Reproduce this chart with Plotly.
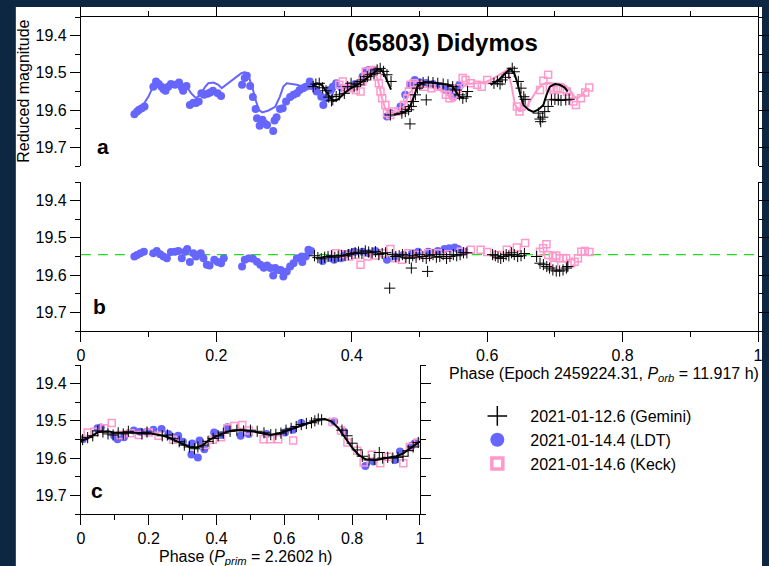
import plotly.graph_objects as go

# ---------------- Panel a : observed lightcurves ----------------
ldt_a_phase = [0.079, 0.083, 0.086, 0.090, 0.094, 0.107, 0.111, 0.115, 0.119, 0.122, 0.125, 0.129, 0.133,
               0.139, 0.145, 0.149, 0.151, 0.156, 0.161, 0.166, 0.170, 0.174, 0.178, 0.182, 0.187, 0.191,
               0.195, 0.202, 0.207, 0.238, 0.242, 0.245, 0.250, 0.254, 0.258, 0.260, 0.264, 0.268, 0.271,
               0.275, 0.284, 0.286, 0.289, 0.294, 0.298, 0.303, 0.309, 0.314, 0.319, 0.323, 0.328, 0.332,
               0.338, 0.340, 0.348, 0.355, 0.358, 0.362, 0.367, 0.372, 0.377, 0.385, 0.395, 0.405, 0.416,
               0.421, 0.425, 0.433, 0.452, 0.457, 0.472, 0.479, 0.486, 0.493, 0.500, 0.510, 0.520, 0.530,
               0.538, 0.544, 0.549, 0.554, 0.559]
ldt_a_mag = [19.611, 19.604, 19.599, 19.595, 19.590, 19.537, 19.523, 19.530, 19.537, 19.544, 19.548, 19.537, 19.530,
             19.532, 19.526, 19.539, 19.548, 19.535, 19.586, 19.580, 19.581, 19.577, 19.555, 19.559, 19.556, 19.553,
             19.548, 19.555, 19.562, 19.532, 19.514, 19.508, 19.535, 19.565, 19.597, 19.622, 19.642, 19.626, 19.635,
             19.640, 19.656, 19.628, 19.619, 19.597, 19.595, 19.577, 19.565, 19.559, 19.555, 19.546, 19.541, 19.537,
             19.523, 19.535, 19.550, 19.564, 19.586, 19.568, 19.546, 19.537, 19.528, 19.540, 19.535, 19.530, 19.510,
             19.495, 19.492, 19.492, 19.617, 19.608, 19.590, 19.559, 19.532, 19.519, 19.525, 19.527, 19.530, 19.535,
             19.545, 19.550, 19.564, 19.541, 19.532]

ldt_model_phase = [0.078, 0.090, 0.100, 0.107, 0.112, 0.117, 0.122, 0.134, 0.146, 0.156, 0.163, 0.170, 0.178,
                   0.183, 0.188, 0.196, 0.203, 0.208, 0.218, 0.227, 0.237, 0.242, 0.247, 0.253, 0.258, 0.263,
                   0.268, 0.277, 0.287, 0.294, 0.299, 0.304, 0.311, 0.319, 0.328, 0.338, 0.348, 0.355, 0.362,
                   0.369, 0.377]
ldt_model_mag = [19.608, 19.592, 19.563, 19.535, 19.521, 19.526, 19.537, 19.532, 19.526, 19.537, 19.555, 19.568, 19.555,
                 19.539, 19.528, 19.526, 19.532, 19.541, 19.528, 19.514, 19.501, 19.498, 19.506, 19.537, 19.573, 19.600,
                 19.606, 19.601, 19.591, 19.563, 19.537, 19.528, 19.530, 19.532, 19.537, 19.526, 19.537, 19.555, 19.573,
                 19.564, 19.537]

gem_a_phase = [0.343, 0.347, 0.352, 0.357, 0.362, 0.366, 0.370, 0.372, 0.377, 0.382, 0.389, 0.394, 0.399, 0.4035,
               0.408, 0.413, 0.418, 0.423, 0.428, 0.433, 0.4375, 0.442, 0.447, 0.452, 0.458, 0.457, 0.474, 0.479,
               0.484, 0.486, 0.488, 0.491, 0.494, 0.497, 0.5006, 0.5054, 0.510, 0.513, 0.520, 0.527, 0.535, 0.542,
               0.549, 0.554, 0.559, 0.564, 0.569, 0.571, 0.610, 0.615, 0.619, 0.622, 0.627, 0.632, 0.637, 0.640,
               0.646, 0.650, 0.654, 0.656, 0.6755, 0.678, 0.679, 0.682, 0.685, 0.690, 0.695, 0.700, 0.705, 0.709,
               0.716, 0.721]
gem_a_mag = [19.537, 19.530, 19.528, 19.540, 19.548, 19.565, 19.575, 19.5725, 19.5635, 19.559, 19.555, 19.537, 19.528, 19.537,
             19.532, 19.523, 19.519, 19.510, 19.505, 19.501, 19.492, 19.488, 19.496, 19.505, 19.523, 19.613, 19.608, 19.604,
             19.599, 19.637, 19.590, 19.577, 19.559, 19.541, 19.532, 19.526, 19.5725, 19.524, 19.526, 19.528, 19.530, 19.532,
             19.537, 19.546, 19.559, 19.568, 19.564, 19.550, 19.528, 19.523, 19.530, 19.519, 19.512, 19.501, 19.4876, 19.497,
             19.523, 19.541, 19.564, 19.571, 19.608, 19.624, 19.631, 19.619, 19.604, 19.590, 19.5725, 19.571, 19.5725, 19.574,
             19.5725, 19.571]

gem_model_phase = [0.342, 0.349, 0.356, 0.362, 0.368, 0.373, 0.379, 0.385, 0.392, 0.400, 0.408, 0.416, 0.424, 0.432,
                   0.438, 0.442, 0.446, 0.450, 0.454, 0.458, None,
                   0.462, 0.470, 0.478, 0.484, 0.489, 0.493, 0.497, 0.503, 0.513, 0.527, 0.542, 0.549, 0.554, 0.559,
                   0.566, None,
                   0.605, 0.617, 0.627, 0.634, 0.640, 0.644, 0.649, 0.6535, 0.661, 0.668, 0.6755, 0.683, 0.6876,
                   0.6925, 0.700, 0.707, 0.714, 0.719]
gem_model_mag = [19.535, 19.528, 19.533, 19.548, 19.566, 19.575, 19.572, 19.562, 19.550, 19.540, 19.532, 19.523, 19.512, 19.500,
                 19.492, 19.490, 19.497, 19.512, 19.530, 19.545, None,
                 19.612, 19.610, 19.605, 19.597, 19.578, 19.555, 19.537, 19.528, 19.525, 19.528, 19.532, 19.537, 19.550, 19.564,
                 19.568, None,
                 19.532, 19.519, 19.501, 19.489, 19.501, 19.523, 19.559, 19.586, 19.599, 19.605, 19.599, 19.586, 19.559,
                 19.537, 19.530, 19.532, 19.539, 19.550]

keck_a_phase = [0.3816, 0.3866, 0.391, 0.394, 0.3987, 0.406, 0.413, 0.4156, 0.4206, 0.423, 0.428, 0.4326, 0.4375,
                0.440, 0.4424, 0.445, 0.4496, 0.452, 0.4569, 0.4618, 0.469, 0.477, 0.482, 0.4843, 0.4867, 0.4916,
                0.499, 0.5078, 0.5176, 0.527, 0.537, 0.539, 0.5443, 0.5516, 0.5565, 0.5637, 0.568, 0.5757, 0.585,
                0.592, 0.600, 0.6439, 0.6477, 0.656, 0.678, 0.683, 0.690, 0.6925, 0.698, 0.6998, 0.7045, 0.712,
                0.7177, 0.7206, 0.7274, 0.731, 0.7385, 0.7448, 0.7507]
keck_a_mag = [19.532, 19.523, 19.541, 19.541, 19.537, 19.546, 19.550, 19.523, 19.497, 19.510, 19.495, 19.492, 19.510,
              19.528, 19.550, 19.568, 19.586, 19.608, 19.613, 19.604, 19.604, 19.586, 19.568, 19.550, 19.532, 19.528,
              19.532, 19.537, 19.541, 19.537, 19.541, 19.559, 19.568, 19.559, 19.541, 19.514, 19.519, 19.528, 19.532,
              19.537, 19.519, 19.590, 19.604, 19.581, 19.546, 19.521, 19.505, 19.539, 19.546, 19.564, 19.541, 19.544,
              19.550, 19.564, 19.577, 19.586, 19.568, 19.553, 19.539]

keck_model_phase = [0.383, 0.392, 0.400, 0.408, 0.415, 0.422, 0.428, 0.433, 0.438, 0.441, 0.445, 0.450, 0.457,
                    0.466, 0.477, 0.485, 0.492, 0.505, 0.520, 0.535, 0.542, 0.548, 0.552, 0.558, 0.563, 0.570,
                    0.585, 0.600, 0.612, 0.622, 0.630, 0.636, 0.641, 0.647, 0.655, 0.663, 0.672, 0.680, 0.688,
                    0.697, 0.712, 0.722, 0.729, 0.734, 0.740, 0.747]
keck_model_mag = [19.540, 19.545, 19.547, 19.545, 19.532, 19.512, 19.502, 19.500, 19.515, 19.540, 19.570, 19.598, 19.610,
                  19.608, 19.590, 19.555, 19.540, 19.538, 19.540, 19.545, 19.560, 19.573, 19.575, 19.560, 19.540, 19.530,
                  19.528, 19.523, 19.512, 19.500, 19.492, 19.535, 19.585, 19.603, 19.600, 19.577, 19.550, 19.532, 19.526,
                  19.528, 19.530, 19.546, 19.564, 19.568, 19.559, 19.541]

# ---------------- Panel b : residuals ----------------
ldt_b_phase = [0.079, 0.083, 0.088, 0.093, 0.107, 0.112, 0.117, 0.122, 0.127, 0.133, 0.139, 0.144, 0.149, 0.154,
               0.157, 0.161, 0.166, 0.170, 0.177, 0.181, 0.186, 0.190, 0.197, 0.202, 0.207, 0.211, 0.238, 0.242,
               0.248, 0.254, 0.260, 0.265, 0.270, 0.275, 0.280, 0.284, 0.287, 0.292, 0.295, 0.299, 0.304, 0.309,
               0.314, 0.319, 0.326, 0.327, 0.332, 0.336, 0.340, 0.357, 0.370, 0.374, 0.384, 0.389, 0.396, 0.404,
               0.416, 0.425, 0.435, 0.452, 0.464, 0.476, 0.489, 0.498, 0.513, 0.527, 0.537, 0.544, 0.552, 0.557,
               0.566]
ldt_b_mag = [19.550, 19.546, 19.541, 19.537, 19.541, 19.535, 19.544, 19.550, 19.555, 19.538, 19.537, 19.535, 19.555, 19.537,
             19.530, 19.565, 19.541, 19.550, 19.541, 19.555, 19.572, 19.574, 19.559, 19.565, 19.568, 19.555, 19.577, 19.559,
             19.555, 19.556, 19.564, 19.572, 19.580, 19.574, 19.581, 19.601, 19.581, 19.586, 19.586, 19.604, 19.590, 19.577,
             19.568, 19.555, 19.550, 19.565, 19.550, 19.532, 19.535, 19.562, 19.555, 19.559, 19.555, 19.546, 19.541, 19.537,
             19.537, 19.541, 19.535, 19.559, 19.550, 19.546, 19.541, 19.537, 19.537, 19.535, 19.530, 19.528, 19.526, 19.530,
             19.537]

gem_b_phase = [0.345, 0.350, 0.355, 0.360, 0.365, 0.370, 0.375, 0.380, 0.385, 0.390, 0.395, 0.400, 0.405, 0.410,
               0.415, 0.420, 0.425, 0.430, 0.435, 0.440, 0.445, 0.450, 0.456, 0.460, 0.465, 0.470, 0.475, 0.480,
               0.485, 0.488, 0.490, 0.495, 0.500, 0.505, 0.510, 0.512, 0.515, 0.520, 0.525, 0.530, 0.535, 0.540,
               0.545, 0.550, 0.555, 0.560, 0.565, 0.570, 0.608, 0.612, 0.616, 0.620, 0.624, 0.628, 0.632, 0.636,
               0.640, 0.645, 0.650, 0.655, 0.673, 0.678, 0.683, 0.688, 0.692, 0.697, 0.702, 0.707, 0.712, 0.717,
               0.719]
gem_b_mag = [19.548, 19.553, 19.556, 19.552, 19.550, 19.548, 19.552, 19.549, 19.547, 19.548, 19.545, 19.542, 19.540, 19.538,
             19.542, 19.535, 19.538, 19.540, 19.537, 19.545, 19.542, 19.540, 19.635, 19.545, 19.550, 19.548, 19.545, 19.552,
             19.555, 19.581, 19.548, 19.552, 19.545, 19.550, 19.555, 19.590, 19.548, 19.545, 19.552, 19.550, 19.545, 19.555,
             19.550, 19.545, 19.548, 19.545, 19.540, 19.540, 19.545, 19.548, 19.552, 19.555, 19.550, 19.545, 19.548, 19.540,
             19.545, 19.550, 19.548, 19.542, 19.550, 19.568, 19.572, 19.577, 19.581, 19.586, 19.589, 19.589, 19.586, 19.581,
             19.577]

keck_b_phase = [0.3768, 0.3865, 0.396, 0.406, 0.413, 0.423, 0.435, 0.447, 0.457, 0.464, 0.474, 0.4836, 0.498, 0.513,
                0.527, 0.542, 0.561, 0.576, 0.5904, 0.600, 0.6147, 0.629, 0.6438, 0.656, 0.678, 0.6826, 0.6875,
                0.690, 0.697, 0.699, 0.702, 0.707, 0.712, 0.7166, 0.724, 0.729, 0.734, 0.739, 0.744, 0.751]
keck_b_mag = [19.541, 19.544, 19.550, 19.546, 19.572, 19.550, 19.547, 19.541, 19.530, 19.555, 19.559, 19.541, 19.546, 19.541,
              19.541, 19.544, 19.537, 19.532, 19.532, 19.538, 19.546, 19.532, 19.526, 19.514, 19.537, 19.528, 19.517,
              19.546, 19.550, 19.572, 19.547, 19.555, 19.554, 19.555, 19.568, 19.564, 19.555, 19.537, 19.535, 19.538]

mean_level = 19.545

# ---------------- Panel c : folded on primary period ----------------
gem_c_phase = [0.005, 0.020, 0.035, 0.050, 0.065, 0.080, 0.095, 0.110, 0.125, 0.140, 0.180, 0.195, 0.240, 0.255,
               0.270, 0.290, 0.305, 0.320, 0.335, 0.345, 0.360, 0.375, 0.390, 0.405, 0.420, 0.440, 0.460, 0.480,
               0.500, 0.520, 0.540, 0.560, 0.575, 0.590, 0.605, 0.620, 0.635, 0.650, 0.665, 0.680, 0.690, 0.700,
               0.710, 0.770, 0.785, 0.800, 0.815, 0.830, 0.850, 0.865, 0.880, 0.890, 0.905, 0.920, 0.935, 0.950,
               0.965, 0.980, 0.995]
gem_c_mag = [19.550, 19.545, 19.540, 19.527, 19.530, 19.535, 19.538, 19.532, 19.535, 19.528, 19.535, 19.530, 19.540, 19.538,
             19.548, 19.556, 19.565, 19.570, 19.575, 19.570, 19.565, 19.555, 19.547, 19.540, 19.533, 19.528, 19.525, 19.527,
             19.525, 19.528, 19.532, 19.537, 19.536, 19.533, 19.525, 19.520, 19.515, 19.510, 19.507, 19.505, 19.500, 19.495,
             19.497, 19.525, 19.540, 19.560, 19.578, 19.595, 19.605, 19.603, 19.585, 19.600, 19.598, 19.600, 19.598, 19.595,
             19.580, 19.570, 19.558]

ldt_c_phase = [0.006, 0.049, 0.059, 0.098, 0.108, 0.127, 0.156, 0.175, 0.195, 0.214, 0.238, 0.258, 0.267, 0.287,
               0.301, 0.326, 0.328, 0.345, 0.350, 0.364, 0.393, 0.413, 0.432, 0.471, 0.495, 0.548, 0.602, 0.626,
               0.650, 0.747, 0.776, 0.839, 0.863, 0.926, 0.941, 0.975, 0.985]
ldt_c_mag = [19.549, 19.520, 19.518, 19.540, 19.549, 19.544, 19.526, 19.529, 19.529, 19.524, 19.522, 19.535, 19.542, 19.540,
             19.556, 19.590, 19.561, 19.598, 19.553, 19.576, 19.531, 19.538, 19.517, 19.540, 19.535, 19.535, 19.531, 19.524,
             19.506, 19.502, 19.529, 19.621, 19.609, 19.605, 19.582, 19.567, 19.560]

keck_c_phase = [0.020, 0.040, 0.069, 0.091, 0.117, 0.146, 0.171, 0.200, 0.229, 0.272, 0.369, 0.389, 0.413, 0.432,
                0.452, 0.476, 0.495, 0.539, 0.558, 0.582, 0.626, 0.742, 0.767, 0.786, 0.815, 0.834, 0.858, 0.883,
                0.907, 0.951, 0.970, 0.994]
keck_c_mag = [19.531, 19.529, 19.520, 19.506, 19.538, 19.533, 19.538, 19.531, 19.540, 19.551, 19.564, 19.551, 19.544, 19.520,
              19.514, 19.511, 19.526, 19.549, 19.549, 19.549, 19.553, 19.503, 19.526, 19.558, 19.580, 19.612, 19.591, 19.614,
              19.596, 19.614, 19.570, 19.558]

prim_model_phase = [0.00, 0.03, 0.05, 0.08, 0.10, 0.13, 0.16, 0.20, 0.23, 0.26, 0.29, 0.32, 0.34, 0.36, 0.38, 0.41,
                    0.44, 0.47, 0.50, 0.53, 0.56, 0.59, 0.62, 0.65, 0.68, 0.70, 0.72, 0.74, 0.76, 0.78, 0.80, 0.82,
                    0.84, 0.87, 0.90, 0.93, 0.95, 0.97, 1.00]
prim_model_mag = [19.555, 19.542, 19.530, 19.528, 19.532, 19.533, 19.532, 19.533, 19.537, 19.545, 19.558, 19.570, 19.572,
                  19.565, 19.550, 19.537, 19.527, 19.524, 19.527, 19.533, 19.538, 19.532, 19.522, 19.512, 19.503, 19.497,
                  19.495, 19.502, 19.520, 19.545, 19.572, 19.592, 19.603, 19.605, 19.600, 19.595, 19.588, 19.575, 19.555]

legend_labels = ["2021-01-12.6 (Gemini)", "2021-01-14.4 (LDT)", "2021-01-14.6 (Keck)"]
y_ticks = [19.4, 19.5, 19.6, 19.7]
x_ticks = [0, 0.2, 0.4, 0.6, 0.8, 1]
mag_range = [19.75, 19.35]

# ---------------- styles ----------------
BLUE = "#6666FF"
PINK = "#FF99CC"
BLACK = "#000000"
GREEN = "#22DD22"
FONT = "Liberation Sans, Arial, sans-serif"

W, H = 769, 566


def px_x(v):
    return v / W


def px_y(v):
    return 1 - v / H


def ldt_pts(x, y, xa, ya):
    return go.Scatter(x=x, y=y, xaxis=xa, yaxis=ya, mode="markers", showlegend=False,
                      marker=dict(symbol="circle", size=8, color=BLUE, line=dict(width=0)))


def keck_pts(x, y, xa, ya):
    return go.Scatter(x=x, y=y, xaxis=xa, yaxis=ya, mode="markers", showlegend=False,
                      marker=dict(symbol="square-open", size=7, color=PINK, line=dict(width=1.5, color=PINK)))


def gem_pts(x, y, xa, ya):
    return go.Scatter(x=x, y=y, xaxis=xa, yaxis=ya, mode="markers", showlegend=False,
                      marker=dict(symbol="cross-thin", size=8, color=BLACK, line=dict(width=1, color=BLACK)))


def model(x, y, xa, ya, color):
    return go.Scatter(x=x, y=y, xaxis=xa, yaxis=ya, mode="lines", showlegend=False,
                      line=dict(color=color, width=2), connectgaps=False)


fig = go.Figure()

# panel a
fig.add_trace(ldt_pts(ldt_a_phase, ldt_a_mag, "x", "y"))
fig.add_trace(model(ldt_model_phase, ldt_model_mag, "x", "y", BLUE))
fig.add_trace(keck_pts(keck_a_phase, keck_a_mag, "x", "y"))
fig.add_trace(model(keck_model_phase, keck_model_mag, "x", "y", PINK))
fig.add_trace(gem_pts(gem_a_phase, gem_a_mag, "x", "y"))
fig.add_trace(model(gem_model_phase, gem_model_mag, "x", "y", BLACK))

# panel b
fig.add_trace(go.Scatter(x=[0, 1], y=[mean_level, mean_level], xaxis="x2", yaxis="y2", mode="lines",
                         showlegend=False, line=dict(color=GREEN, width=1.3, dash="10px,7px")))
fig.add_trace(ldt_pts(ldt_b_phase, ldt_b_mag, "x2", "y2"))
fig.add_trace(keck_pts(keck_b_phase, keck_b_mag, "x2", "y2"))
fig.add_trace(gem_pts(gem_b_phase, gem_b_mag, "x2", "y2"))

# panel c
fig.add_trace(ldt_pts(ldt_c_phase, ldt_c_mag, "x3", "y3"))
fig.add_trace(keck_pts(keck_c_phase, keck_c_mag, "x3", "y3"))
fig.add_trace(model(prim_model_phase, prim_model_mag, "x3", "y3", BLACK))
fig.add_trace(gem_pts(gem_c_phase, gem_c_mag, "x3", "y3"))

# legend entries
fig.add_trace(go.Scatter(x=[None], y=[None], xaxis="x3", yaxis="y3", mode="markers", name=legend_labels[0],
                         marker=dict(symbol="cross-thin", size=14, color=BLACK, line=dict(width=1.5, color=BLACK))))
fig.add_trace(go.Scatter(x=[None], y=[None], xaxis="x3", yaxis="y3", mode="markers", name=legend_labels[1],
                         marker=dict(symbol="circle", size=14, color=BLUE, line=dict(width=0))))
fig.add_trace(go.Scatter(x=[None], y=[None], xaxis="x3", yaxis="y3", mode="markers", name=legend_labels[2],
                         marker=dict(symbol="square-open", size=11, color=PINK, line=dict(width=3.5, color=PINK))))

tickfont = dict(family=FONT, size=16, color="black")


def xaxis(domain, anchor, side="bottom", labels=True, mirror=False):
    return dict(domain=domain, anchor=anchor, side=side, range=[0, 1], showline=True, linecolor="black",
                linewidth=1, ticks="outside", ticklen=10, tickwidth=1, tickcolor="black",
                tickvals=x_ticks, showticklabels=labels, tickfont=tickfont, showgrid=False, zeroline=False,
                minor=dict(dtick=0.1, tick0=0, ticks="outside", ticklen=5, tickcolor="black", tickwidth=1,
                           showgrid=False), mirror=mirror, fixedrange=True)


def yaxis(domain, anchor):
    return dict(domain=domain, anchor=anchor, range=mag_range, showline=True, linecolor="black", linewidth=1,
                mirror="ticks", ticks="outside", ticklen=10, tickwidth=1, tickcolor="black",
                tickvals=y_ticks, ticktext=[f"{v:.1f}" for v in y_ticks], tickfont=tickfont,
                showgrid=False, zeroline=False,
                minor=dict(dtick=0.05, tick0=19.35, ticks="outside", ticklen=5, tickcolor="black", tickwidth=1,
                           showgrid=False), fixedrange=True)


xa_dom = [px_x(78), px_x(765)]
xc_dom = [px_x(78), px_x(422)]

fig.update_layout(
    width=W, height=H, margin=dict(l=0, r=0, t=0, b=0),
    paper_bgcolor="#0d2742", plot_bgcolor="white",
    font=dict(family=FONT, size=16, color="black"),
    xaxis=xaxis(xa_dom, "y", side="top", labels=False),
    yaxis=yaxis([px_y(166), px_y(17)], "x"),
    xaxis2=xaxis(xa_dom, "y2"),
    yaxis2=yaxis([px_y(331), px_y(182)], "x2"),
    xaxis3=xaxis(xc_dom, "y3"),
    yaxis3=yaxis([px_y(514), px_y(365)], "x3"),
    showlegend=True,
    legend=dict(x=px_x(467), y=px_y(399), xanchor="left", yanchor="top", bgcolor="rgba(0,0,0,0)",
                borderwidth=0, font=dict(family=FONT, size=16, color="black"), itemwidth=56,
                traceorder="normal"),
    shapes=[dict(type="rect", xref="paper", yref="paper", x0=px_x(12), x1=1, y0=0, y1=px_y(7),
                 fillcolor="white", line=dict(width=0), layer="below")],
)

ann = [
    dict(text="<b>(65803) Didymos</b>", x=px_x(445), y=px_y(43), font=dict(size=24)),
    dict(text="<b>a</b>", x=px_x(100), y=px_y(146), font=dict(size=21)),
    dict(text="<b>b</b>", x=px_x(97), y=px_y(306), font=dict(size=21)),
    dict(text="<b>c</b>", x=px_x(94), y=px_y(490), font=dict(size=21)),
    dict(text="Reduced magnitude", x=px_x(19), y=px_y(91), textangle=-90, font=dict(size=16)),
    dict(text="Phase (Epoch 2459224.31, <i>P</i><sub><i>orb</i></sub> = 11.917 h)", x=px_x(768), y=px_y(374),
         xanchor="right", font=dict(size=16)),
    dict(text="Phase (<i>P</i><sub><i>prim</i></sub> = 2.2602 h)", x=px_x(245), y=px_y(557), font=dict(size=16)),
]
for a in ann:
    a.setdefault("xanchor", "center")
    fig.add_annotation(xref="paper", yref="paper", showarrow=False, yanchor="middle", **a)

fig.write_html("out.html")
